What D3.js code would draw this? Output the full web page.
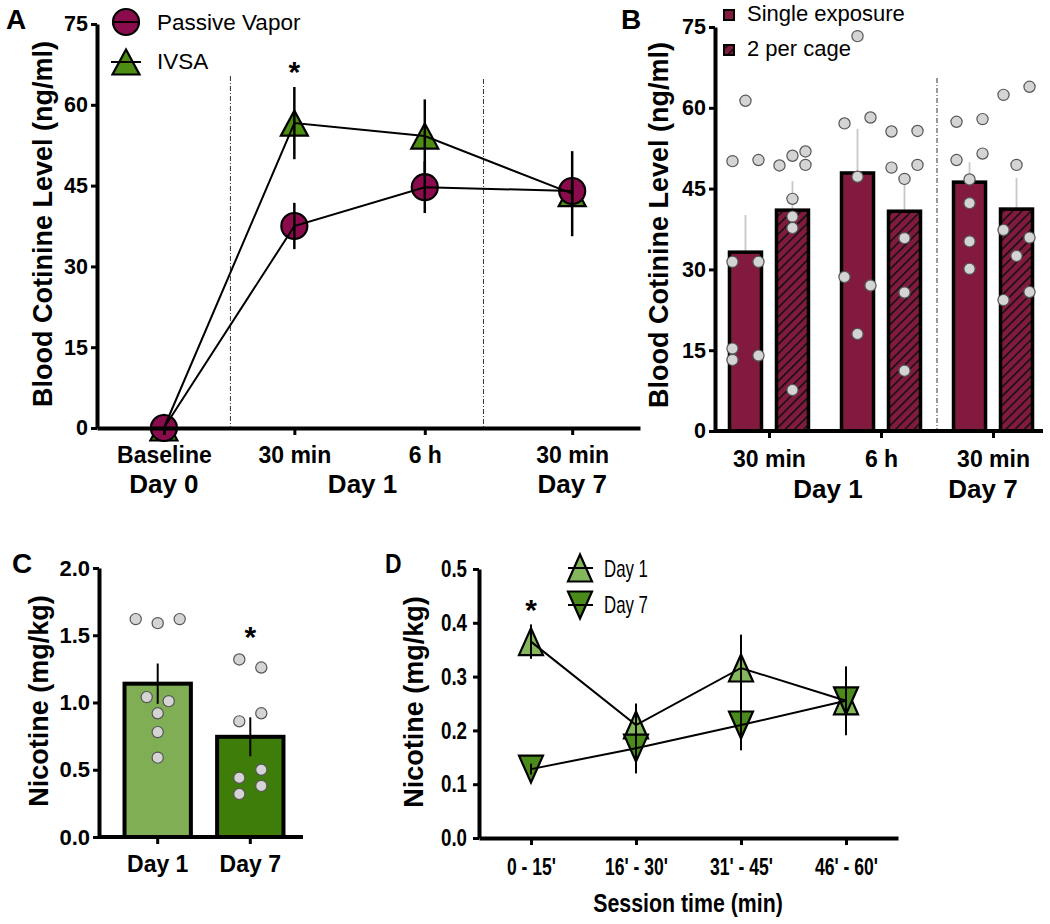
<!DOCTYPE html>
<html><head><meta charset="utf-8">
<script src="https://cdn.jsdelivr.net/npm/d3@7"></script>
<style>
body{margin:0;background:#fff}
svg{display:block}
text{font-family:"Liberation Sans",Arial,Helvetica,sans-serif}
</style>
</head><body>
<svg id="chart" width="1050" height="924"></svg>
<script>
// ---------------- DATA ----------------
// Panel A
const catsA = ["Baseline", "30 min", "6 h", "30 min"];
const daysA = ["Day 0", "Day 1", "Day 7"];
const passiveMean = [0, 37.5, 44.7, 44.0];
const passiveSem  = [0, 4.3, 4.8, 2.0];
const ivsaMean    = [0, 56.6, 54.2, 43.5];
const ivsaSem     = [0, 6.7, 6.8, 7.9];
const ticksA = [0, 15, 30, 45, 60, 75];

// Panel B
const groupsB = ["30 min", "6 h", "30 min "];
const tickLabelsB = ["30 min", "6 h", "30 min"];
const daysB = ["Day 1", "Day 7"];
const singleMean = [33.2, 47.9, 46.2];
const singleSem  = [6.9, 8.2, 3.7];
const pairMean   = [41.0, 40.8, 41.2];
const pairSem    = [5.4, 5.4, 5.8];
const singlePts = [
  [61.3, 50.1, 50.3, 31.4, 31.4, 15.3, 13.2, 14.0],
  [57.1, 58.2, 73.3, 47.2, 28.6, 27.0, 18.0],
  [57.4, 57.9, 50.3, 51.5, 46.7, 42.3, 35.2, 30.1]
];
const pairPts = [
  [49.3, 51.1, 51.9, 49.4, 43.1, 39.8, 37.7, 7.6],
  [55.6, 55.7, 48.9, 49.4, 46.8, 35.8, 25.7, 11.2],
  [62.4, 63.9, 49.4, 37.3, 35.9, 32.5, 25.8, 24.3]
];
const ticksB = [0, 15, 30, 45, 60, 75];

// Panel C
const catsC = ["Day 1", "Day 7"];
const nicMean = [1.14, 0.745];
const nicSem  = [0.15, 0.145];
const nicPts = [
  [1.62, 1.59, 1.62, 1.04, 1.01, 0.92, 0.78, 0.59],
  [1.32, 1.26, 0.86, 0.92, 0.50, 0.44, 0.38, 0.32]
];
const ticksC = [0, 0.5, 1.0, 1.5, 2.0];

// Panel D
const catsD = ["0 - 15'", "16' - 30'", "31' - 45'", "46' - 60'"];
const day1Mean = [0.365, 0.21, 0.316, 0.255];
const day1Sem  = [0.032, 0.04, 0.062, 0.064];
const day7Mean = [0.128, 0.167, 0.21, 0.255];
const day7Sem  = [0.01, 0.047, 0.047, 0.02];
const ticksD = [0, 0.1, 0.2, 0.3, 0.4, 0.5];

// ---------------- LAYOUT / STYLE ----------------
const posA = [0, 1, 2, 3.13];          // category slots on panel A's x scale
const dividersA = [0.51, 2.45];
// jitter slots for scatter dots (in units of dot spacing)
const slotsBsingle = [[0,-1,1,-1,1,-1,-1,1],[-1,1,0,0,-1,1,0],[-1,1,-1,1,0,0,0,0]];
const slotsBpair   = [[-1,0,1,1,0,0,0,0],[-1,1,-1,1,0,0,0,0],[-1,1,0,-1,1,0,1,-1]];
const slotsC = [[-2,0,2,-1,1,0,0,0],[-1,1,-1,1,1,-1,1,-1]];

const MAROON_A = "#8a0c4c", MAROON_B = "#821a40";
const GREEN_A = "#4e8d14";
const GREEN_C1 = "#7fae55", GREEN_C7 = "#3f7d0b";
const GREEN_D1 = "#84b65c", GREEN_D7 = "#4a8b1c";
const DOT_FILL = "#d4d4d4", DOT_STROKE = "#555";

const svg = d3.select("#chart");
svg.append("rect").attr("width", 1050).attr("height", 924).attr("fill", "#fff");

const defs = svg.append("defs");
const pat = defs.append("pattern").attr("id", "hatch").attr("patternUnits", "userSpaceOnUse")
  .attr("width", 6.5).attr("height", 6.5).attr("patternTransform", "rotate(45)");
pat.append("rect").attr("width", 6.5).attr("height", 6.5).attr("fill", MAROON_B);
pat.append("line").attr("x1", 0).attr("y1", 0).attr("x2", 0).attr("y2", 6.5)
  .attr("stroke", "#111").attr("stroke-width", 3.2);

function triPath(w, h, up) {
  return up ? `M0,${-h/2}L${w/2},${h/2}L${-w/2},${h/2}Z`
            : `M0,${h/2}L${w/2},${-h/2}L${-w/2},${-h/2}Z`;
}
function styleAxis(g, fs) {
  g.select(".domain").attr("stroke", "#000").attr("stroke-width", 4);
  g.selectAll(".tick line").attr("stroke", "#000").attr("stroke-width", 3);
  g.selectAll(".tick text").attr("fill", "#000").attr("font-size", fs).attr("font-weight", "bold")
    .attr("font-family", '"Liberation Sans",Arial,sans-serif');
}
function condense(sel, f) {
  sel.each(function () {
    const L = this.getComputedTextLength();
    d3.select(this).attr("textLength", L * f).attr("lengthAdjust", "spacingAndGlyphs");
  });
  return sel;
}
function label(x, y, txt, opts = {}) {
  const t = svg.append("text").attr("x", x).attr("y", y).text(txt)
    .attr("font-size", opts.fs || 24).attr("font-weight", opts.w || "bold")
    .attr("text-anchor", opts.anchor || "start").attr("fill", "#000");
  return t;
}
function yTitle(x, y, txt, fs) {
  return svg.append("text").attr("transform", `translate(${x},${y}) rotate(-90)`)
    .attr("text-anchor", "middle").attr("font-size", fs).attr("font-weight", "bold").text(txt);
}

// ================= PANEL A =================
{
  const xA = d3.scaleLinear().domain([-0.513, 3.65]).range([97, 640]);
  const yA = d3.scaleLinear().domain([0, 75]).range([428, 24]);
  const g = svg.append("g");

  dividersA.forEach((d, i) => {
    g.append("line").attr("x1", xA(d)).attr("x2", xA(d)).attr("y1", i ? 79 : 76).attr("y2", yA(0))
      .attr("stroke", "#333").attr("stroke-width", 1).attr("stroke-dasharray", "5,2,1,2");
  });

  g.selectAll(".triA").data(ivsaMean).join("path")
    .attr("d", triPath(27, 25, true))
    .attr("transform", (d, i) => `translate(${xA(posA[i])},${yA(d)})`)
    .attr("fill", GREEN_A).attr("stroke", "#000").attr("stroke-width", 2.2);
  g.selectAll(".cirA").data(passiveMean).join("circle")
    .attr("cx", (d, i) => xA(posA[i])).attr("cy", d => yA(d)).attr("r", 13)
    .attr("fill", MAROON_A).attr("stroke", "#000").attr("stroke-width", 2.2);

  const lineA = d3.line().x((d, i) => xA(posA[i])).y(d => yA(d));
  [passiveMean, ivsaMean].forEach(s => {
    g.append("path").attr("d", lineA(s)).attr("fill", "none").attr("stroke", "#000").attr("stroke-width", 2);
  });
  [[passiveMean, passiveSem], [ivsaMean, ivsaSem]].forEach(([m, s]) => {
    g.selectAll(null).data(m).join("line")
      .attr("x1", (d, i) => xA(posA[i])).attr("x2", (d, i) => xA(posA[i]))
      .attr("y1", (d, i) => yA(d - s[i])).attr("y2", (d, i) => yA(d + s[i]))
      .attr("stroke", "#000").attr("stroke-width", 2.5);
  });

  const ax = g.append("g").attr("transform", `translate(97,0)`)
    .call(d3.axisLeft(yA).tickValues(ticksA).tickSize(6).tickPadding(3).tickSizeOuter(0));
  styleAxis(ax, 21.5);
  const bx = g.append("g").attr("transform", `translate(0,428)`)
    .call(d3.axisBottom(xA).tickValues(posA).tickFormat((d, i) => catsA[i]).tickSize(7).tickPadding(14).tickSizeOuter(0));
  styleAxis(bx, 23);
  bx.selectAll(".tick text").attr("dy", 0).attr("y", 35);

  label(xA(0), 493, daysA[0], { fs: 26, anchor: "middle" });
  label((xA(1) + xA(2)) / 2 + 3, 493, daysA[1], { fs: 26, anchor: "middle" });
  label(xA(posA[3]), 493, daysA[2], { fs: 26, anchor: "middle" });

  yTitle(52, 224, "Blood Cotinine Level (ng/ml)", 27);
  label(xA(1), 82, "*", { fs: 30, anchor: "middle" });
  label(6, 29, "A", { fs: 28 });

  g.append("circle").attr("cx", 126).attr("cy", 22).attr("r", 13).attr("fill", MAROON_A).attr("stroke", "#000").attr("stroke-width", 2.2);
  g.append("line").attr("x1", 113).attr("x2", 139).attr("y1", 22).attr("y2", 22).attr("stroke", "#000").attr("stroke-width", 2);
  g.append("path").attr("d", triPath(27, 25, true)).attr("transform", "translate(126,62)")
    .attr("fill", GREEN_A).attr("stroke", "#000").attr("stroke-width", 2.2);
  g.append("line").attr("x1", 111).attr("x2", 141).attr("y1", 62).attr("y2", 62).attr("stroke", "#000").attr("stroke-width", 2);
  label(157, 30, "Passive Vapor", { fs: 22.5, w: "normal" });
  label(157, 69, "IVSA", { fs: 22.5, w: "normal" });
}

// ================= PANEL B =================
{
  const x0 = d3.scalePoint().domain(groupsB).range([717, 1045]).padding(0.464);
  const x1 = d3.scaleBand().domain(["single", "pair"]).range([-41, 41]).paddingInner(0.255);
  const yB = d3.scaleLinear().domain([0, 75]).range([431, 27]);
  const g = svg.append("g");
  const bw = x1.bandwidth();

  g.append("line").attr("x1", 937).attr("x2", 937).attr("y1", 78).attr("y2", 431)
    .attr("stroke", "#333").attr("stroke-width", 1).attr("stroke-dasharray", "5,2,1,2");

  const series = [
    { key: "single", mean: singleMean, sem: singleSem, pts: singlePts, slots: slotsBsingle, fill: MAROON_B },
    { key: "pair", mean: pairMean, sem: pairSem, pts: pairPts, slots: slotsBpair, fill: "url(#hatch)" }
  ];
  series.forEach(s => {
    groupsB.forEach((grp, i) => {
      const cx = x0(grp) + x1(s.key) + bw / 2;
      g.append("line").attr("x1", cx).attr("x2", cx).attr("y1", yB(s.mean[i])).attr("y2", yB(s.mean[i] + s.sem[i]))
        .attr("stroke", "#c8c8c8").attr("stroke-width", 1.8);
      g.append("rect").attr("x", x0(grp) + x1(s.key) + 1.5).attr("width", bw - 3)
        .attr("y", yB(s.mean[i])).attr("height", yB(0) - yB(s.mean[i]))
        .attr("fill", s.fill).attr("stroke", "#000").attr("stroke-width", 3.5);
    });
  });
  series.forEach(s => {
    groupsB.forEach((grp, i) => {
      const cx = x0(grp) + x1(s.key) + bw / 2;
      g.selectAll(null).data(s.pts[i]).join("circle")
        .attr("cx", (d, j) => cx + s.slots[i][j] * 13).attr("cy", d => yB(d)).attr("r", 5.6)
        .attr("fill", DOT_FILL).attr("stroke", DOT_STROKE).attr("stroke-width", 1.2);
    });
  });

  const ax = g.append("g").attr("transform", `translate(715,0)`)
    .call(d3.axisLeft(yB).tickValues(ticksB).tickSize(6).tickPadding(3).tickSizeOuter(0));
  styleAxis(ax, 21.5);
  const bx = g.append("g").attr("transform", `translate(0,431)`)
    .call(d3.axisBottom(x0).tickFormat((d, i) => tickLabelsB[i]).tickSize(7).tickSizeOuter(0));
  bx.select(".domain").attr("d", "M715,0H1043");
  styleAxis(bx, 23);
  bx.selectAll(".tick text").attr("dy", 0).attr("y", 36);

  label(828, 498, daysB[0], { fs: 26, anchor: "middle" });
  label(983, 498, daysB[1], { fs: 26, anchor: "middle" });
  yTitle(668, 225, "Blood Cotinine Level (ng/ml)", 27);
  label(621, 29, "B", { fs: 28 });

  g.append("rect").attr("x", 724).attr("y", 10).attr("width", 10).attr("height", 10)
    .attr("fill", MAROON_B).attr("stroke", "#000").attr("stroke-width", 2);
  g.append("rect").attr("x", 724).attr("y", 45).attr("width", 10).attr("height", 10)
    .attr("fill", "url(#hatch)").attr("stroke", "#000").attr("stroke-width", 2);
  label(747, 21, "Single exposure", { fs: 22, w: "normal" });
  label(747, 56, "2 per cage", { fs: 22, w: "normal" });
}

// ================= PANEL C =================
{
  const xC = d3.scaleBand().domain(catsC).range([104, 304]).paddingInner(0.24).paddingOuter(0.2);
  const yC = d3.scaleLinear().domain([0, 2]).range([837, 568]);
  const g = svg.append("g");
  const bw = xC.bandwidth();
  const fills = [GREEN_C1, GREEN_C7];

  catsC.forEach((c, i) => {
    g.append("rect").attr("x", xC(c) + 2).attr("width", bw - 4)
      .attr("y", yC(nicMean[i])).attr("height", yC(0) - yC(nicMean[i]))
      .attr("fill", fills[i]).attr("stroke", "#000").attr("stroke-width", 4);
  });
  catsC.forEach((c, i) => {
    const cx = xC(c) + bw / 2;
    g.append("line").attr("x1", cx).attr("x2", cx)
      .attr("y1", yC(nicMean[i] - nicSem[i])).attr("y2", yC(nicMean[i] + nicSem[i]))
      .attr("stroke", "#000").attr("stroke-width", 2);
    g.selectAll(null).data(nicPts[i]).join("circle")
      .attr("cx", (d, j) => cx + slotsC[i][j] * 11).attr("cy", d => yC(d)).attr("r", 5.6)
      .attr("fill", DOT_FILL).attr("stroke", DOT_STROKE).attr("stroke-width", 1.2);
  });

  const ax = g.append("g").attr("transform", `translate(99,0)`)
    .call(d3.axisLeft(yC).tickValues(ticksC).tickFormat(d3.format(".1f")).tickSize(6).tickPadding(3).tickSizeOuter(0));
  styleAxis(ax, 22);
  const bx = g.append("g").attr("transform", `translate(0,837)`)
    .call(d3.axisBottom(xC).tickSize(7).tickSizeOuter(0));
  bx.select(".domain").attr("d", "M99,0H303");
  styleAxis(bx, 23);
  bx.selectAll(".tick text").attr("dy", 0).attr("y", 35);

  yTitle(48, 701, "Nicotine (mg/kg)", 27);
  label(xC("Day 7") + bw / 2, 647, "*", { fs: 30, anchor: "middle" });
  label(12, 573, "C", { fs: 28 });
}

// ================= PANEL D =================
{
  const xD = d3.scalePoint().domain(catsD).range([479, 898]).padding(0.495);
  const yD = d3.scaleLinear().domain([0, 0.5]).range([838, 569]);
  const g = svg.append("g");

  g.selectAll(null).data(day1Mean).join("path")
    .attr("d", triPath(24, 27, true))
    .attr("transform", (d, i) => `translate(${xD(catsD[i])},${yD(d)})`)
    .attr("fill", GREEN_D1).attr("stroke", "#000").attr("stroke-width", 2.2);
  g.selectAll(null).data(day7Mean).join("path")
    .attr("d", triPath(24, 27, false))
    .attr("transform", (d, i) => `translate(${xD(catsD[i])},${yD(d)})`)
    .attr("fill", GREEN_D7).attr("stroke", "#000").attr("stroke-width", 2.2);

  const lineD = d3.line().x((d, i) => xD(catsD[i])).y(d => yD(d));
  [day1Mean, day7Mean].forEach(s => {
    g.append("path").attr("d", lineD(s)).attr("fill", "none").attr("stroke", "#000").attr("stroke-width", 2);
  });
  [[day1Mean, day1Sem], [day7Mean, day7Sem]].forEach(([m, s]) => {
    g.selectAll(null).data(m).join("line")
      .attr("x1", (d, i) => xD(catsD[i])).attr("x2", (d, i) => xD(catsD[i]))
      .attr("y1", (d, i) => yD(d - s[i])).attr("y2", (d, i) => yD(d + s[i]))
      .attr("stroke", "#000").attr("stroke-width", 2);
  });

  const ax = g.append("g").attr("transform", `translate(479,0)`)
    .call(d3.axisLeft(yD).tickValues(ticksD).tickFormat(d3.format(".1f")).tickSize(6).tickPadding(6).tickSizeOuter(0));
  styleAxis(ax, 24);
  condense(ax.selectAll(".tick text"), 0.78);
  const bx = g.append("g").attr("transform", `translate(0,838)`)
    .call(d3.axisBottom(xD).tickSize(7).tickSizeOuter(0));
  styleAxis(bx, 24);
  bx.selectAll(".tick text").attr("dy", 0).attr("y", 37);
  condense(bx.selectAll(".tick text"), 0.73);

  condense(label(688, 912, "Session time (min)", { fs: 26, anchor: "middle" }), 0.82);
  yTitle(423, 702, "Nicotine (mg/kg)", 27);
  label(xD(catsD[0]), 620, "*", { fs: 30, anchor: "middle" });
  condense(label(385, 573, "D", { fs: 27 }), 0.85);

  g.append("path").attr("d", triPath(24, 27, true)).attr("transform", "translate(580,568)")
    .attr("fill", GREEN_D1).attr("stroke", "#000").attr("stroke-width", 2.2);
  g.append("line").attr("x1", 568).attr("x2", 593).attr("y1", 568).attr("y2", 568).attr("stroke", "#000").attr("stroke-width", 2);
  g.append("path").attr("d", triPath(24, 27, false)).attr("transform", "translate(580,605)")
    .attr("fill", GREEN_D7).attr("stroke", "#000").attr("stroke-width", 2.2);
  g.append("line").attr("x1", 568).attr("x2", 593).attr("y1", 605).attr("y2", 605).attr("stroke", "#000").attr("stroke-width", 2);
  condense(label(604, 577, "Day 1", { fs: 24, w: "normal" }), 0.7);
  condense(label(604, 613, "Day 7", { fs: 24, w: "normal" }), 0.7);
}
</script>
</body></html>
